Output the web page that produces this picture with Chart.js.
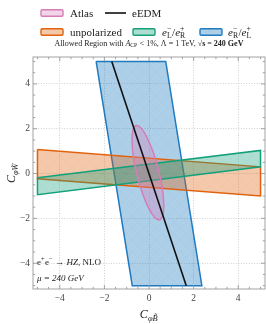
<!DOCTYPE html>
<html>
<head>
<meta charset="utf-8">
<script src="https://cdn.jsdelivr.net/npm/chart.js@4"></script>
<style>html,body{margin:0;padding:0;background:#fff}</style>
</head>
<body>
<canvas id="c" width="266" height="324"></canvas>
<script>
// values
const xTicks = [-4, -2, 0, 2, 4];
const yTicks = [-4, -2, 0, 2, 4];

// bands (closed polygons)
const unpolX = [-5, 5, 5, -5, -5];
const unpolY = [1.07, 0.30, -1.00, -0.23, 1.07];
const eLX = [-5, 5, 5, -5, -5];
const eLY = [-0.19, 1.03, 0.30, -0.94, -0.19];
const eRX = [-2.37, 0.75, 2.37, -0.75, -2.37];
const eRY = [5, 5, -5, -5, 5];

// Atlas contour, points picked along the outline
const atlasX = [0.48, 0.62, 0.66, 0.60, 0.43, 0.19, -0.09, -0.36, -0.58, -0.72, -0.76, -0.70, -0.53, -0.29, -0.01, 0.26, 0.48];
const atlasY = [-2.08, -1.87, -1.38, -0.67, 0.15, 0.95, 1.61, 2.03, 2.14, 1.93, 1.44, 0.73, -0.09, -0.89, -1.55, -1.97, -2.08];

// eEDM line
const edmX = [-1.67, 1.67];
const edmY = [5, -5];

const FONT = '"Liberation Serif"';
const cv = document.getElementById('c');
const ctx = cv.getContext('2d');

const col = {
  atlas: [214, 124, 182],
  unpol: [224, 98, 13],
  eL: [19, 161, 123],
  eR: [31, 122, 192]
};
const rgb = (c, a) => a == null ? `rgb(${c})` : `rgba(${c},${a})`;

// light fill with a faint cross hatch
function hatch(c, a) {
  const s = 12;
  const p = document.createElement('canvas');
  p.width = p.height = s;
  const g = p.getContext('2d');
  g.fillStyle = rgb(c, a);
  g.fillRect(0, 0, s, s);
  g.strokeStyle = rgb(c, a * 0.22);
  g.lineWidth = 0.5;
  g.beginPath();
  g.moveTo(0, 0); g.lineTo(s, s);
  g.moveTo(s, 0); g.lineTo(0, s);
  g.stroke();
  return ctx.createPattern(p, 'repeat');
}

const pts = (xs, ys) => xs.map((x, i) => ({ x: x, y: ys[i] }));

function shape(label, xs, ys, c, a, order, tension) {
  return {
    label: label,
    data: pts(xs, ys),
    showLine: true,
    fill: 'shape',
    backgroundColor: hatch(c, a),
    borderColor: rgb(c),
    borderWidth: 1.5,
    pointRadius: 0,
    tension: tension || 0,
    order: order
  };
}

const datasets = [
  { label: 'eEDM', data: pts(edmX, edmY), showLine: true, fill: false,
    borderColor: '#111', borderWidth: 1.6, pointRadius: 0, order: 0 },
  shape('Atlas', atlasX, atlasY, col.atlas, 0.32, 1, 0.4),
  shape('eL', eLX, eLY, col.eL, 0.35, 2),
  shape('unpolarized', unpolX, unpolY, col.unpol, 0.35, 3),
  shape('eR', eRX, eRY, col.eR, 0.36, 4)
];

const fmt = v => (v < 0 ? '\u2212' + Math.abs(v) : String(v));

// text with sub/superscripts
function rich(g, parts, x, y, size, align, color) {
  const sm = size * 0.7;
  const f = (s, p) => `${p.it ? 'italic ' : ''}${p.b ? 'bold ' : ''}${s}px ${FONT}`;
  const ws = [];
  let w = 0;
  for (const p of parts) {
    let pw;
    if (p.t != null) {
      g.font = f(size, p);
      pw = g.measureText(p.t).width;
    } else {
      g.font = f(sm, p);
      pw = Math.max(p.sub ? g.measureText(p.sub).width : 0, p.sup ? g.measureText(p.sup).width : 0) + 0.5;
    }
    ws.push(pw);
    w += pw;
  }
  let cx = align === 'center' ? x - w / 2 : align === 'right' ? x - w : x;
  g.fillStyle = color || '#222';
  g.textAlign = 'left';
  g.textBaseline = 'alphabetic';
  parts.forEach((p, i) => {
    if (p.t != null) {
      g.font = f(size, p);
      g.fillText(p.t, cx, y);
    } else {
      g.font = f(sm, p);
      if (p.sup) g.fillText(p.sup, cx, y - size * 0.4);
      if (p.sub) g.fillText(p.sub, cx, y + size * 0.24);
    }
    cx += ws[i];
  });
  return w;
}

const legendText = {
  Atlas: [{ t: 'Atlas' }],
  eEDM: [{ t: 'eEDM' }],
  unpolarized: [{ t: 'unpolarized' }],
  eL: [{ t: 'e', it: true }, { sup: '\u2212', sub: 'L' }, { t: '/' }, { t: 'e', it: true }, { sup: '+', sub: 'R' }],
  eR: [{ t: 'e', it: true }, { sup: '\u2212', sub: 'R' }, { t: '/' }, { t: 'e', it: true }, { sup: '+', sub: 'L' }]
};

const decor = {
  id: 'decor',
  afterDatasetsDraw(chart) {
    const g = chart.ctx;
    const a = chart.chartArea;
    const xs = chart.scales.x, ys = chart.scales.y;
    g.save();
    g.strokeStyle = '#9a9a9a';
    g.lineWidth = 0.9;
    g.strokeRect(a.left, a.top, a.right - a.left, a.bottom - a.top);
    // inward ticks on all sides
    g.beginPath();
    for (let i = -10; i <= 10; i++) {
      const v = i / 2;
      const len = i % 4 === 0 ? 4 : 2.2;
      const px = xs.getPixelForValue(v);
      if (px > a.left + 1 && px < a.right - 1) {
        g.moveTo(px, a.bottom); g.lineTo(px, a.bottom - len);
        g.moveTo(px, a.top); g.lineTo(px, a.top + len);
      }
      const py = ys.getPixelForValue(v);
      if (py > a.top + 1 && py < a.bottom - 1) {
        g.moveTo(a.left, py); g.lineTo(a.left + len, py);
        g.moveTo(a.right, py); g.lineTo(a.right - len, py);
      }
    }
    g.stroke();
    g.restore();
  },
  afterDraw(chart) {
    const g = chart.ctx;
    g.save();
    // legend
    const byLabel = {};
    chart.data.datasets.forEach(d => { byLabel[d.label] = d; });
    const slots = [
      ['Atlas', 41, 13, 70], ['eEDM', 105, 13, 132],
      ['unpolarized', 41, 32, 70], ['eL', 133, 32, 162], ['eR', 200, 32, 228]
    ];
    for (const [key, bx, by, tx] of slots) {
      const d = byLabel[key];
      if (key === 'eEDM') {
        g.strokeStyle = d.borderColor;
        g.lineWidth = 1.6;
        g.beginPath(); g.moveTo(bx, by); g.lineTo(bx + 21, by); g.stroke();
      } else {
        g.fillStyle = d.backgroundColor;
        g.strokeStyle = d.borderColor;
        g.lineWidth = 1.4;
        g.beginPath();
        g.roundRect(bx, by - 3.3, 22, 6.6, 1.2);
        g.fill(); g.stroke();
      }
      rich(g, legendText[key], tx, by + 3.6, 11, 'left', '#222');
    }
    // title above the axes
    rich(g, [{ t: 'Allowed Region with ' }, { t: 'A', it: true }, { sub: 'CP' },
      { t: ' < 1%, \u039B = 1 TeV, ' }, { t: '\u221As = 240 GeV', b: true }], 149, 45.5, 8, 'center', '#222');
    // process annotation
    rich(g, [{ t: 'e' }, { sup: '+' }, { t: 'e' }, { sup: '\u2212' }, { t: ' \u2192 ' }, { t: 'HZ', it: true }, { t: ', NLO' }],
      37, 265, 9, 'left', '#222');
    rich(g, [{ t: '\u03BC = 240 GeV', it: true }], 37, 281, 9, 'left', '#222');
    // axis titles
    rich(g, [{ t: 'C', it: true }, { sub: '\u03C6B\u0303', it: true }], 149, 318, 12, 'center', '#222');
    g.translate(15, 173);
    g.rotate(-Math.PI / 2);
    rich(g, [{ t: 'C', it: true }, { sub: '\u03C6W\u0303', it: true }], 0, 0, 12, 'center', '#222');
    g.restore();
  }
};

const tickFont = { family: FONT, size: 9.5 };

new Chart(ctx, {
  type: 'scatter',
  data: { datasets: datasets },
  options: {
    responsive: false,
    animation: false,
    devicePixelRatio: 1,
    layout: { padding: { top: 57, right: 1, left: 0, bottom: 0 } },
    plugins: { legend: { display: false }, tooltip: { enabled: false } },
    scales: {
      x: {
        type: 'linear', min: -5.2, max: 5.2,
        afterBuildTicks: s => { s.ticks = xTicks.map(v => ({ value: v })); },
        afterFit: s => { s.height = 35; },
        grid: { color: '#c4c4c4', lineWidth: 0.8, drawTicks: false },
        border: { display: false, dash: [1, 1.6] },
        ticks: { padding: 4, color: '#444', font: tickFont, maxRotation: 0, callback: fmt }
      },
      y: {
        type: 'linear', min: -5.15, max: 5.2,
        afterBuildTicks: s => { s.ticks = yTicks.map(v => ({ value: v })); },
        afterFit: s => { s.width = 33; },
        grid: { color: '#c4c4c4', lineWidth: 0.8, drawTicks: false },
        border: { display: false, dash: [1, 1.6] },
        ticks: { padding: 3, color: '#444', font: tickFont, callback: fmt }
      }
    }
  },
  plugins: [decor]
});
</script>
</body>
</html>
